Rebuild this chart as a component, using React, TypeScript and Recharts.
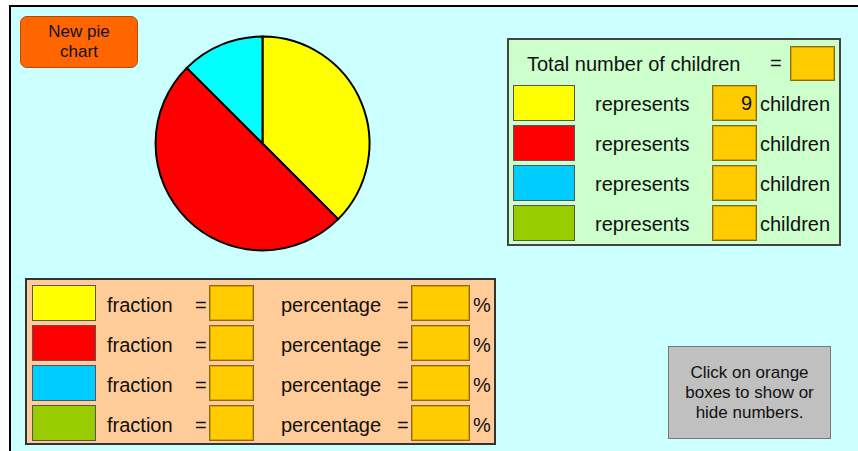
import { PieChart, Pie, Cell } from 'recharts';

const colourNames = ['yellow', 'red', 'blue', 'green'];
const swatchColours = ['#FFFF00', '#FF0000', '#00CCFF', '#99CC00'];
const sliceColours = ['#FFFF00', '#FF0000', '#00FFFF', '#99CC00'];
const childCounts = [9, 12, 3, 0];
const shownCounts = ['9', '', '', ''];

const FONT = '"Liberation Sans", Arial, sans-serif';

const orangeBox = (w: number, h: number): React.CSSProperties => ({
  width: w,
  height: h,
  boxSizing: 'border-box',
  background: '#FFCC00',
  border: '1px solid #8a6a1a',
  boxShadow: 'inset 0 0 0 1px #d9a600',
});

const swatch = (colour: string, w: number, h: number): React.CSSProperties => ({
  width: w,
  height: h,
  boxSizing: 'border-box',
  background: colour,
  border: '1px solid #555',
});

function PieArea() {
  const pieData = colourNames
    .map((name, i) => ({ name, value: childCounts[i], colour: sliceColours[i] }))
    .filter((d) => d.value > 0);

  return (
    <div style={{ position: 'absolute', left: 136, top: 17 }}>
      <PieChart width={251} height={251} margin={{ top: 0, right: 0, bottom: 0, left: 0 }}>
        <Pie
          data={pieData}
          dataKey="value"
          cx={126.5}
          cy={126.5}
          outerRadius={107}
          startAngle={90}
          endAngle={-270}
          stroke="#000"
          strokeWidth={2}
          isAnimationActive={false}
        >
          {pieData.map((d) => (
            <Cell key={d.name} fill={d.colour} />
          ))}
        </Pie>
      </PieChart>
    </div>
  );
}

export default function App() {
  return (
    <div
      style={{
        position: 'absolute',
        left: 0,
        top: 0,
        width: 858,
        height: 451,
        background: '#fff',
        overflow: 'hidden',
        fontFamily: FONT,
        color: '#111',
      }}
    >
      <div
        style={{
          position: 'absolute',
          left: 9,
          top: 5,
          width: 849,
          height: 446,
          boxSizing: 'border-box',
          background: '#CCFFFF',
          borderTop: '2px solid #000',
          borderLeft: '2px solid #000',
        }}
      />

      {/* button */}
      <div
        style={{
          position: 'absolute',
          left: 20,
          top: 16,
          width: 118,
          height: 52,
          boxSizing: 'border-box',
          background: '#FF6600',
          border: '1px solid #b34a00',
          borderRadius: 7,
          fontSize: 17,
          lineHeight: '20px',
          textAlign: 'center',
          paddingTop: 5,
        }}
      >
        New pie
        <br />
        chart
      </div>

      <PieArea />

      {/* children panel */}
      <div
        style={{
          position: 'absolute',
          left: 507,
          top: 38,
          width: 334,
          height: 208,
          boxSizing: 'border-box',
          background: '#CCFFCC',
          border: '2px solid #444',
          fontSize: 20,
        }}
      >
        <div style={{ position: 'absolute', left: 18, top: 13 }}>Total number of children</div>
        <div style={{ position: 'absolute', left: 261, top: 12 }}>=</div>
        <div style={{ position: 'absolute', left: 281, top: 6, ...orangeBox(45, 35) }} />
        {colourNames.map((name, i) => (
          <div key={name}>
            <div style={{ position: 'absolute', left: 4, top: 45 + i * 40, ...swatch(swatchColours[i], 62, 36) }} />
            <div style={{ position: 'absolute', left: 86, top: 53 + i * 40 }}>represents</div>
            <div
              style={{
                position: 'absolute',
                left: 203,
                top: 45 + i * 40,
                ...orangeBox(45, 36),
                textAlign: 'right',
                paddingRight: 4,
                lineHeight: '34px',
              }}
            >
              {shownCounts[i]}
            </div>
            <div style={{ position: 'absolute', left: 251, top: 53 + i * 40 }}>children</div>
          </div>
        ))}
      </div>

      {/* fraction panel */}
      <div
        style={{
          position: 'absolute',
          left: 25,
          top: 278,
          width: 471,
          height: 167,
          boxSizing: 'border-box',
          background: '#FFCC99',
          border: '2px solid #333',
          fontSize: 20,
        }}
      >
        {colourNames.map((name, i) => (
          <div key={name}>
            <div style={{ position: 'absolute', left: 5, top: 5 + i * 40, ...swatch(swatchColours[i], 64, 36) }} />
            <div style={{ position: 'absolute', left: 80, top: 14 + i * 40 }}>fraction</div>
            <div style={{ position: 'absolute', left: 168, top: 14 + i * 40 }}>=</div>
            <div style={{ position: 'absolute', left: 182, top: 5 + i * 40, ...orangeBox(45, 36) }} />
            <div style={{ position: 'absolute', left: 254, top: 14 + i * 40 }}>percentage</div>
            <div style={{ position: 'absolute', left: 370, top: 14 + i * 40 }}>=</div>
            <div style={{ position: 'absolute', left: 384, top: 5 + i * 40, ...orangeBox(59, 36) }} />
            <div style={{ position: 'absolute', left: 446, top: 14 + i * 40 }}>%</div>
          </div>
        ))}
      </div>

      {/* hint box */}
      <div
        style={{
          position: 'absolute',
          left: 668,
          top: 346,
          width: 163,
          height: 93,
          boxSizing: 'border-box',
          background: '#C0C0C0',
          border: '1px solid #777',
          fontSize: 17,
          lineHeight: '20px',
          textAlign: 'center',
          paddingTop: 16,
        }}
      >
        Click on orange
        <br />
        boxes to show or
        <br />
        hide numbers.
      </div>
    </div>
  );
}
